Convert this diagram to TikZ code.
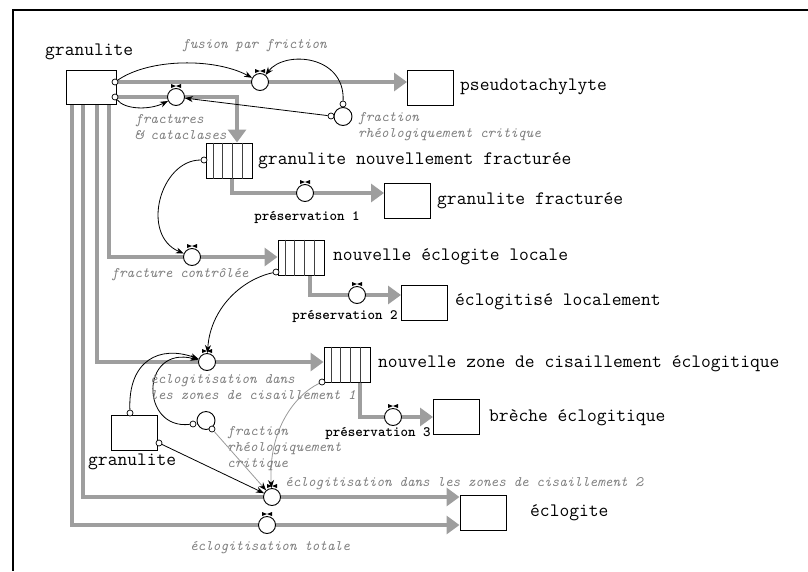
\documentclass[tikz,border=0pt]{standalone}
\usepackage{fontspec}
\usetikzlibrary{arrows.meta,calc}
\definecolor{pipegray}{gray}{0.62}
\pgfdeclarelayer{bg}
\pgfsetlayers{bg,main}
\begin{document}
\begin{tikzpicture}[x=1pt,y=-1pt,
  font=\ttfamily\fontsize{19}{21}\selectfont,
  box/.style={draw, line width=1pt, minimum width=46pt, minimum height=35pt, inner sep=0pt},
  valve/.style={circle, draw, fill=white, line width=0.9pt, minimum size=17pt, inner sep=0pt},
  aux/.style={circle, draw, fill=white, line width=0.9pt, minimum size=18pt, inner sep=0pt},
  port/.style={circle, draw, fill=white, line width=0.7pt, minimum size=6pt, inner sep=0pt},
  pipe/.style={draw=pipegray, line width=4pt, line join=miter},
  flow/.style={pipe, -{Triangle[length=13pt,width=18pt,fill=pipegray,color=pipegray]}},
  link/.style={draw=black, line width=0.8pt, -{Stealth[length=8pt,width=6pt]}},
  glink/.style={draw=black!40, line width=0.8pt, -{Stealth[length=8pt,width=6pt,color=black]}},
  lbl/.style={anchor=west, inner sep=0pt},
  note/.style={text=black!50, font=\ttfamily\itshape\fontsize{14.5}{16}\selectfont, inner sep=0pt, align=left},
  pres/.style={font=\ttfamily\bfseries\fontsize{14.3}{16}\selectfont, inner sep=0pt},
]
\useasboundingbox (0,0) rectangle (808,571);
\draw[line width=1.5pt] (808,10) -- (13,10) -- (13,571);

% stocks
\node[box, minimum width=50pt, minimum height=34pt] (g1) at (91,87) {};
\node[box] (pseudo) at (430.5,87.5) {};
\node[box] (s2) at (229,160.5) {};
\node[box] (gf) at (407.5,200.5) {};
\node[box] (s3) at (301,257.5) {};
\node[box] (el) at (424.5,303) {};
\node[box] (s4) at (347,364.5) {};
\node[box] (br) at (456.5,416.5) {};
\node[box] (g2) at (134.5,432.5) {};
\node[box] (ec) at (483,513) {};

\foreach \s in {s2,s3,s4}
  \foreach \d in {8,17,27,37}
    \draw[line width=0.8pt, black!75] ([xshift=\d pt]\s.north west) -- ([xshift=\d pt]\s.south west);

% valves
\node[valve] (v1) at (260,82) {};
\node[valve] (v2) at (176,97) {};
\node[valve] (v3) at (305,193) {};
\node[valve] (v4) at (192,257) {};
\node[valve] (v5) at (357,295) {};
\node[valve] (v6) at (207,362) {};
\node[valve] (v7) at (393,417) {};
\node[valve] (v8) at (272,497) {};
\node[valve] (v9) at (267,525) {};
\foreach \i in {1,...,9}
  \fill ([shift={(-5,-13)}]v\i.center) -- ([shift={(5,-9)}]v\i.center) -- ([shift={(5,-13)}]v\i.center) -- ([shift={(-5,-9)}]v\i.center) -- cycle;

% auxiliaries
\node[aux] (aux1) at (343,116.5) {};
\node[aux] (aux2) at (206,420.5) {};

% flows
\begin{pgfonlayer}{bg}
\draw[flow] ([yshift=5pt]g1.east) -- (v1.center) -- (v1.center -| pseudo.west);
\draw[flow] ([yshift=-10pt]g1.east) -- (v2.center) -- ([xshift=8pt]s2.north |- v2.center) -- ([xshift=8pt]s2.north);
\draw[flow] ([xshift=3pt]s2.south) |- (v3.center) -- (v3.center -| gf.west);
\draw[flow] ([xshift=18pt]g1.south) |- (v4.center) -- (v4.center -| s3.west);
\draw[flow] ([xshift=9pt]s3.south) |- (v5.center) -- (v5.center -| el.west);
\draw[flow] ([xshift=6pt]g1.south) |- (v6.center) -- (v6.center -| s4.west);
\draw[flow] ([xshift=13pt]s4.south) |- (v7.center) -- (v7.center -| br.west);
\draw[flow] ([xshift=-8pt]g1.south) |- (v8.center) -- (v8.center -| ec.west);
\draw[flow] ([xshift=-19pt]g1.south) |- (v9.center) -- (v9.center -| ec.west);
\end{pgfonlayer}

% connectors
\node[port] (o1) at (115,82) {};
\node[port] (o2) at (115,97) {};
\node[port] (o3) at (343,104) {};
\node[port] (o4) at (331,116) {};
\node[port] (o5) at (204,160) {};
\node[port] (o6) at (276,272) {};
\node[port] (o7) at (130,413) {};
\node[port] (o8) at (193,424) {};
\node[port] (o9) at (212,429) {};
\node[port] (o10) at (159,443) {};
\node[port] (o11) at (322,382) {};

\draw[link] (o1) .. controls (150,58) and (215,58) .. (v1);
\draw[link] (o3) .. controls (345,55) and (285,50) .. (v1);
\draw[link] (o4) -- (v2);
\draw[link] (o2) .. controls (125,110) and (150,110) .. (v2);
\draw[link] (o5) .. controls (160,160) and (140,235) .. (v4);
\draw[link] (o6) .. controls (240,280) and (210,310) .. (v6);
\draw[link] (o7) .. controls (128,360) and (160,345) .. (v6);
\draw[link] (o8) .. controls (140,430) and (140,345) .. (v6);
\draw[glink] (o9) -- (v8);
\draw[link] (o10) -- (v8);
\draw[glink] (o11) .. controls (295,395) and (268,430) .. (v8);

% stock labels
\node[lbl] (tg1) at (45,52) {granulite};
\node[lbl] (tps) at (460,87) {pseudotachylyte};
\node[lbl] (ts2) at (258,161) {granulite nouvellement fracturée};
\node[lbl] (tgf) at (437,201) {granulite fracturée};
\node[lbl] (ts3) at (333,257) {nouvelle éclogite locale};
\node[lbl] (tel) at (455,302) {éclogitisé localement};
\node[lbl] (ts4) at (378,364) {nouvelle zone de cisaillement éclogitique};
\node[lbl] (tbr) at (489,418) {brèche éclogitique};
\node[lbl] (tg2) at (88,462) {granulite};
\node[lbl] (tec) at (530,513) {éclogite};

% rate and auxiliary labels
\node[note] (n1) at (254.5,46) {fusion par friction};
\node[note, anchor=north west] (n2) at (135,114) {fractures\\\& cataclases};
\node[note, anchor=north west] (n3) at (358,112) {fraction\\rhéologiquement critique};
\node[note] (n4) at (180,275) {fracture contrôlée};
\node[pres] (p1) at (307,217) {préservation 1};
\node[pres] (p2) at (345,316) {préservation 2};
\node[pres] (p3) at (378,433) {préservation 3};
\node[note, anchor=north west] (n5) at (150,374) {éclogitisation dans\\les zones de cisaillement 1};
\node[note, anchor=north west] (n6) at (227,426) {fraction\\rhéologiquement\\critique};
\node[note, anchor=west] (n7) at (285,484) {éclogitisation dans les zones de cisaillement 2};
\node[note] (n8) at (270,548) {éclogitisation totale};
\end{tikzpicture}
\end{document}
